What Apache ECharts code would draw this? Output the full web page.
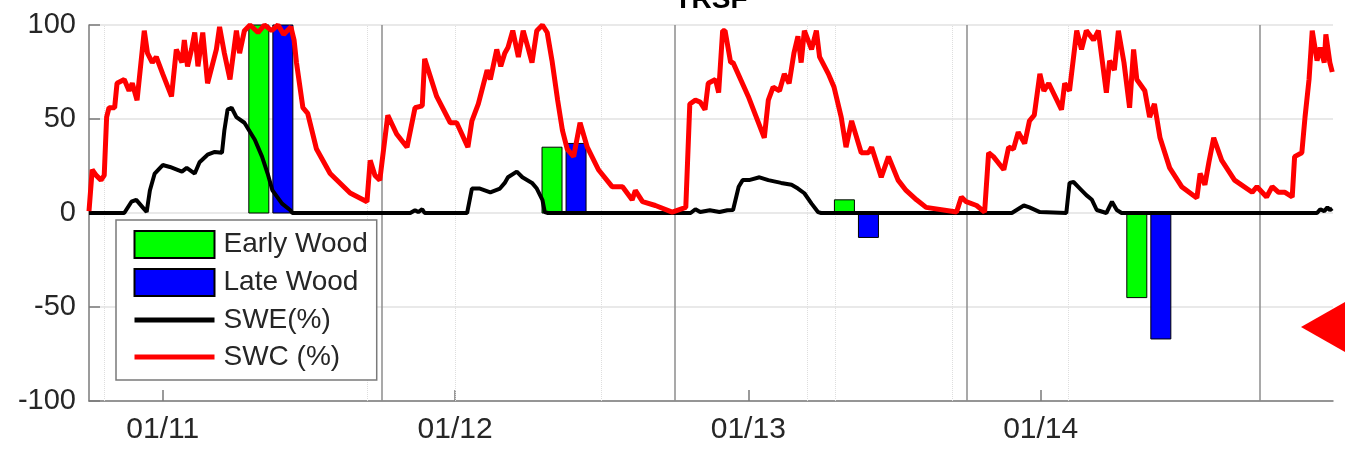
<!DOCTYPE html>
<html>
<head>
<meta charset="utf-8">
<script src="https://cdn.jsdelivr.net/npm/echarts@6/dist/echarts.min.js"></script>
<style>
html,body{margin:0;padding:0;background:#fff;}
#chart{width:1345px;height:454px;}
</style>
</head>
<body>
<div id="chart"></div>
<script>
// ---- data ----
const titleText = 'TRSF';
const seriesNames = ['Early Wood', 'Late Wood', 'SWE(%)', 'SWC (%)'];

const earlyWoodDates = ['2011-05-01', '2012-05-01', '2013-05-01', '2014-05-01'];
const earlyWoodValues = [100, 35, 7, -45];
const lateWoodDates = ['2011-05-31', '2012-05-31', '2013-05-31', '2014-05-31'];
const lateWoodValues = [100, 37, -13, -67];

const swcData = [
['2010-10-01',1],['2010-10-05',23],['2010-10-10',20],['2010-10-16',17.5],['2010-10-20',20],['2010-10-23',51],['2010-10-26',56],['2010-11-02',56],['2010-11-05',69],['2010-11-14',71],['2010-11-20',65],['2010-11-24',69],['2010-11-30',60],['2010-12-09',97],['2010-12-13',85],['2010-12-19',80],['2010-12-24',83],
['2011-01-01',74],['2011-01-12',62],['2011-01-18',87],['2011-01-25',80],['2011-01-28',92],['2011-02-01',78],['2011-02-06',87],['2011-02-10',96],['2011-02-14',78],['2011-02-20',96],['2011-02-26',69],['2011-03-09',87],['2011-03-13',99],['2011-03-19',85],['2011-03-26',71],['2011-04-03',97],['2011-04-07',85],['2011-04-13',97],['2011-04-20',100],['2011-04-30',96],['2011-05-08',100],['2011-05-17',97],['2011-05-25',100],['2011-06-01',95],['2011-06-10',99],['2011-06-14',92],['2011-06-17',80],['2011-06-25',56],['2011-07-01',53],['2011-07-12',34],['2011-07-29',21],['2011-08-23',10.6],['2011-09-13',6],['2011-09-17',28],['2011-09-23',20],['2011-09-29',17.5],['2011-10-09',52],['2011-10-20',42],['2011-11-02',35],['2011-11-12',56],['2011-11-21',57],['2011-11-24',82],['2011-12-09',62],['2011-12-26',48],
['2012-01-03',48],['2012-01-17',35],['2012-01-22',49],['2012-01-30',58],['2012-02-10',76],['2012-02-14',71],['2012-02-22',87],['2012-02-27',78],['2012-03-03',85],['2012-03-07',88],['2012-03-13',97],['2012-03-20',83],['2012-03-26',97],['2012-04-01',88],['2012-04-06',80],['2012-04-12',97],['2012-04-19',100],['2012-04-25',96],['2012-05-01',81],['2012-05-08',60],['2012-05-14',44],['2012-05-20',34],['2012-05-28',30],['2012-06-05',48],['2012-06-14',35],['2012-06-28',23],['2012-07-15',14],['2012-07-28',14],['2012-08-09',7],['2012-08-13',12],['2012-08-22',6],['2012-09-07',4],['2012-09-28',0.5],['2012-10-15',3],['2012-10-20',58],['2012-10-27',60],['2012-11-02',59],['2012-11-08',55],['2012-11-12',69],['2012-11-21',71],['2012-11-25',64],['2012-11-30',97],['2012-12-03',97],['2012-12-10',80],['2012-12-13',80],
['2013-01-01',62],['2013-01-21',40],['2013-01-26',60],['2013-02-01',67],['2013-02-09',65],['2013-02-15',74],['2013-02-21',69],['2013-02-27',85],['2013-03-04',94],['2013-03-08',80],['2013-03-12',97],['2013-03-21',87],['2013-03-27',97],['2013-03-31',83],['2013-04-11',74],['2013-04-18',67],['2013-04-27',51],['2013-05-03',35],['2013-05-10',49],['2013-05-22',32],['2013-05-31',32],['2013-06-04',35],['2013-06-16',19],['2013-06-25',30],['2013-07-07',17.5],['2013-07-17',12],['2013-07-30',7],['2013-08-11',3],['2013-09-18',0.5],['2013-09-24',8.5],['2013-09-30',6],['2013-10-13',4],['2013-10-23',0.5],['2013-10-28',32],['2013-11-03',30],['2013-11-16',23],['2013-11-22',35],['2013-11-28',34],['2013-12-04',43],['2013-12-12',37],['2013-12-18',49],['2013-12-24',52],['2013-12-31',74],
['2014-01-05',65],['2014-01-11',69],['2014-01-27',55],['2014-01-31',69],['2014-02-06',65],['2014-02-15',97],['2014-02-21',87],['2014-02-27',97],['2014-03-08',92],['2014-03-14',97],['2014-03-24',64],['2014-03-28',81],['2014-04-03',76],['2014-04-08',97],['2014-04-15',80],['2014-04-22',56],['2014-04-27',87],['2014-05-01',71],['2014-05-11',65],['2014-05-17',51],['2014-05-23',58],['2014-05-30',40],['2014-06-11',24],['2014-06-26',14],['2014-07-15',8],['2014-07-19',21],['2014-07-25',15],['2014-07-30',27],['2014-08-05',40],['2014-08-15',28],['2014-08-31',17.5],['2014-09-22',11],['2014-09-28',14],['2014-10-10',8.5],['2014-10-17',14],['2014-10-25',11],['2014-11-02',11],['2014-11-11',8.5],['2014-11-14',30],['2014-11-23',32],['2014-11-27',51],['2014-12-02',71],['2014-12-06',97],['2014-12-12',81],['2014-12-16',88],['2014-12-21',80],['2014-12-23',95],['2014-12-28',80],['2014-12-31',75]
];

const sweData = [
['2010-10-01',0],['2010-11-14',0],['2010-11-23',6],['2010-11-29',7],['2010-12-07',3],['2010-12-12',0.5],['2010-12-16',12],['2010-12-22',21],
['2011-01-01',25.5],['2011-01-10',24.5],['2011-01-25',22],['2011-01-31',24],['2011-02-10',21],['2011-02-16',27],['2011-02-26',31],['2011-03-07',32.5],['2011-03-16',32],['2011-03-19',44],['2011-03-23',55],['2011-03-28',56],['2011-04-03',51],['2011-04-13',48],['2011-04-26',39],['2011-05-05',30],['2011-05-12',21],['2011-05-18',12],['2011-05-30',5],['2011-06-09',1.6],['2011-06-12',0],['2011-11-06',0],['2011-11-12',1.5],['2011-11-16',0.5],['2011-11-21',2],['2011-11-24',0],
['2012-01-16',0],['2012-01-22',13],['2012-02-01',13],['2012-02-14',11],['2012-02-26',13],['2012-03-03',16],['2012-03-07',19],['2012-03-18',22],['2012-03-25',19],['2012-04-06',16],['2012-04-12',13],['2012-04-19',7],['2012-04-22',0.5],['2012-04-26',0],['2012-10-21',0],['2012-10-27',2],['2012-11-02',0.5],['2012-11-14',1.5],['2012-11-26',0.5],['2012-12-06',1.5],['2012-12-13',1.6],['2012-12-20',14],['2012-12-25',17.5],
['2013-01-02',17.5],['2013-01-15',19],['2013-01-26',17.5],['2013-02-11',16],['2013-02-24',15],['2013-03-04',13],['2013-03-12',10.5],['2013-03-21',5],['2013-03-29',0.5],['2013-04-02',0],['2013-11-26',0],['2013-12-02',1.6],['2013-12-11',4],['2013-12-18',3],['2013-12-31',0.5],
['2014-02-02',0],['2014-02-06',16],['2014-02-11',16.5],['2014-02-19',13],['2014-02-27',9.5],['2014-03-06',7],['2014-03-12',1.6],['2014-03-24',0],['2014-03-31',6],['2014-04-06',1.6],['2014-04-12',0],['2014-12-12',0],['2014-12-16',2],['2014-12-21',1],['2014-12-25',3],['2014-12-28',1.5],['2014-12-31',2.5]
];

const waterYearLines = ['2011-10-01', '2012-10-01', '2013-10-01', '2014-10-01'];
const faintGridDates = ['2010-10-20', '2011-09-13', '2012-01-01', '2012-07-01', '2013-03-15', '2013-04-19', '2013-09-13', '2014-02-05'];
const xMin = '2010-10-01';
const xMax = '2014-12-31 22:00';
const yMin = -100, yMax = 100, yInterval = 50;

// ---- chart ----
const FONT = "'Liberation Sans', Arial, Helvetica, sans-serif";
const TXT = '#262626';
const AX = '#7a7a7a';
const BAR_W = 20;

const chart = echarts.init(document.getElementById('chart'), null, {renderer: 'canvas'});

function zip(d, v) { return d.map((x, i) => [x, v[i]]); }

function barItem(params, api) {
  const t = api.value(0), v = api.value(1);
  const p0 = api.coord([t, 0]);
  const p1 = api.coord([t, v]);
  return {
    type: 'rect',
    shape: { x: p0[0] - BAR_W / 2, y: Math.min(p0[1], p1[1]), width: BAR_W, height: Math.abs(p1[1] - p0[1]) },
    style: api.style()
  };
}

const option = {
  animation: false,
  backgroundColor: '#ffffff',
  grid: { left: 89, right: 12, top: 25, bottom: 53, containLabel: false },
  graphic: [
    { type: 'text', x: 711, y: 14, z: 100,
      style: { text: titleText, font: 'bold 28px ' + FONT, fill: '#000', align: 'center', verticalAlign: 'bottom' } },
    { type: 'polygon', z: 100,
      shape: { points: [[1301, 327], [1345, 302], [1345, 352]] },
      style: { fill: '#ff0000' } }
  ],
  legend: {
    orient: 'vertical',
    left: 116, top: 220,
    data: [
      { name: seriesNames[0], icon: 'rect' },
      { name: seriesNames[1], icon: 'rect' },
      { name: seriesNames[2], itemStyle: { opacity: 0 }, lineStyle: { width: 5, color: '#000000' } },
      { name: seriesNames[3], itemStyle: { opacity: 0 }, lineStyle: { width: 5, color: '#ff0000' } }
    ],
    itemWidth: 80, itemHeight: 27, itemGap: 9,
    padding: [10, 9, 9, 16],
    borderColor: '#7a7a7a', borderWidth: 1.5,
    backgroundColor: '#ffffff',
    textStyle: { fontSize: 28, color: TXT, fontFamily: FONT, lineHeight: 27, padding: [0, 0, 0, 4] },
    selectedMode: false
  },
  xAxis: {
    type: 'time',
    min: xMin, max: xMax,
    minInterval: 365 * 24 * 3600 * 1000,
    axisLine: { show: true, onZero: false, lineStyle: { color: AX, width: 1.5 } },
    axisTick: { show: true, inside: true, length: 11, lineStyle: { color: AX, width: 1.5 } },
    splitLine: { show: false },
    axisLabel: {
      show: true, color: TXT, fontSize: 30, fontFamily: FONT, margin: 14, lineHeight: 30,
      showMinLabel: false, showMaxLabel: false, hideOverlap: false,
      formatter: function (val) {
        const d = new Date(val);
        if (d.getMonth() === 0 && d.getDate() === 1) {
          return '01/' + String(d.getFullYear() % 100).padStart(2, '0');
        }
        return '';
      }
    }
  },
  yAxis: {
    type: 'value',
    min: yMin, max: yMax, interval: yInterval,
    axisLine: { show: true, onZero: false, lineStyle: { color: AX, width: 1.5 } },
    axisTick: { show: true, inside: true, length: 11, lineStyle: { color: AX, width: 1.5 } },
    splitLine: { show: true, lineStyle: { color: '#e2e2e2', width: 1.5 } },
    axisLabel: { color: TXT, fontSize: 29, fontFamily: FONT, margin: 13 }
  },
  series: [
    {
      name: seriesNames[0], type: 'custom', z: 2,
      dimensions: [{ name: 'date', type: 'time' }, { name: 'value', type: 'float' }],
      encode: { x: 0, y: 1 },
      data: zip(earlyWoodDates, earlyWoodValues),
      renderItem: barItem,
      itemStyle: { color: '#00ff00', borderColor: '#000', borderWidth: 1 }
    },
    {
      name: seriesNames[1], type: 'custom', z: 2,
      dimensions: [{ name: 'date', type: 'time' }, { name: 'value', type: 'float' }],
      encode: { x: 0, y: 1 },
      data: zip(lateWoodDates, lateWoodValues),
      renderItem: barItem,
      itemStyle: { color: '#0000ff', borderColor: '#000', borderWidth: 1 }
    },
    {
      name: seriesNames[2], type: 'line', z: 3,
      data: sweData, showSymbol: false, symbol: 'none',
      lineStyle: { color: '#000000', width: 4 },
      itemStyle: { color: '#000000' },
      markLine: {
        silent: true, symbol: 'none', label: { show: false }, z: 1,
        lineStyle: { color: '#dedede', width: 1, type: 'dotted' },
        data: faintGridDates.map(d => ({ xAxis: d }))
      }
    },
    {
      name: seriesNames[3], type: 'line', z: 4,
      data: swcData, showSymbol: false, symbol: 'none',
      lineStyle: { color: '#ff0000', width: 5 },
      itemStyle: { color: '#ff0000' },
      markLine: {
        silent: true, symbol: 'none', label: { show: false }, z: 1,
        lineStyle: { color: '#8c8c8c', width: 1.5, type: 'solid' },
        data: waterYearLines.map(d => ({ xAxis: d }))
      }
    }
  ]
};
chart.setOption(option);
</script>
</body>
</html>
